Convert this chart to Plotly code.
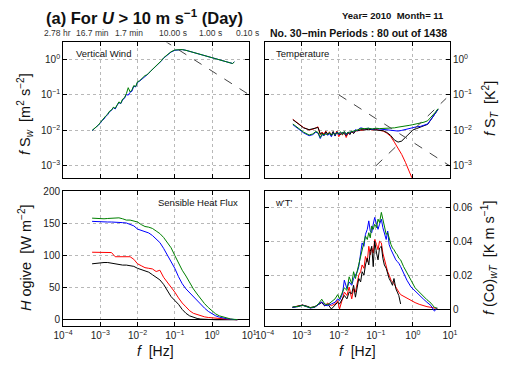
import plotly.graph_objects as go

# ---------------- data ----------------
# Vertical wind spectrum: log10 f and log10 (f S_w)
logf_w = [-3.22, -3.15, -3.1, -3.05, -3.0, -2.95, -2.9, -2.85, -2.8, -2.75, -2.7, -2.65, -2.6, -2.55,
          -2.5, -2.45, -2.4, -2.35, -2.3, -2.25, -2.2, -2.15, -2.1, -2.05, -2.0, -1.95, -1.9, -1.85,
          -1.8, -1.75, -1.7, -1.65, -1.6, -1.55, -1.5, -1.45, -1.4, -1.35, -1.3, -1.2, -1.1, -1.0,
          -0.9, -0.8, -0.7, -0.6, -0.5, -0.4, -0.3, -0.2, -0.1, 0.0, 0.1, 0.2, 0.3, 0.4, 0.5, 0.55, 0.6]
log_fSw_blue = [-2.01, -1.95, -1.90, -1.86, -1.80, -1.72, -1.68, -1.60, -1.56, -1.47, -1.44, -1.36, -1.40, -1.30,
                -1.22, -1.25, -1.14, -1.10, -0.99, -1.01, -0.93, -0.90, -0.76, -0.78, -0.65, -0.62, -0.58, -0.52,
                -0.48, -0.46, -0.40, -0.34, -0.29, -0.24, -0.19, -0.15, -0.11, -0.04, 0.03, 0.11, 0.20, 0.25,
                0.27, 0.27, 0.25, 0.22, 0.19, 0.16, 0.13, 0.10, 0.07, 0.04, 0.01, -0.03, -0.06, -0.09, -0.11, -0.12, -0.07]
log_fSw_green = [-2.00, -1.94, -1.88, -1.85, -1.78, -1.71, -1.66, -1.59, -1.54, -1.46, -1.43, -1.35, -1.38, -1.28,
                 -1.20, -1.24, -1.12, -1.08, -0.97, -0.80, -0.92, -0.86, -0.74, -0.77, -0.63, -0.61, -0.56, -0.51,
                 -0.46, -0.44, -0.39, -0.33, -0.28, -0.23, -0.18, -0.13, -0.10, -0.03, 0.04, 0.12, 0.21, 0.26,
                 0.27, 0.27, 0.25, 0.22, 0.19, 0.16, 0.13, 0.10, 0.07, 0.04, 0.01, -0.03, -0.06, -0.09, -0.11, -0.12, -0.08]

# Temperature spectrum: log10 f and log10 (f S_T)
logf_t = [-3.24, -3.1, -2.95, -2.8, -2.7, -2.62, -2.56, -2.5, -2.45, -2.4, -2.35, -2.3, -2.25, -2.2, -2.15,
          -2.1, -2.05, -2.0, -1.95, -1.9, -1.85, -1.8, -1.75, -1.7, -1.65, -1.6, -1.55, -1.5, -1.45, -1.4,
          -1.3, -1.2, -1.1, -1.0, -0.9, -0.8, -0.7, -0.6, -0.5, -0.4, -0.3, -0.2, -0.1, 0.0, 0.1, 0.2,
          0.3, 0.4, 0.5, 0.6, 0.68]
log_fST_red = [-1.69, -1.80, -1.92, -1.99, -1.97, -1.93, -1.90, -2.12, -2.05, -2.10, -2.02, -2.12, -2.04, -2.15, -2.06,
               -2.12, -2.02, -2.18, -2.08, -2.13, -2.05, -2.20, -2.08, -2.10, -2.04, -2.07, -2.00, -2.02, -1.98, -2.00,
               -1.97, -1.96, -1.99, -1.97, -2.00, -2.02, -2.08, -2.17, -2.33, -2.50, -2.68, -2.90, -3.15, -3.40, -3.65, None,
               None, None, None, None, None]
log_fST_black = [-1.70, -1.81, -1.93, -1.98, -1.96, -1.94, -1.92, -2.10, -2.07, -2.14, -2.04, -2.09, -2.08, -2.13, -2.03,
                 -2.16, -2.04, -2.10, -2.12, -2.06, -2.09, -2.15, -2.05, -2.12, -2.02, -2.09, -2.02, -2.00, -2.01, -1.98,
                 -1.99, -1.97, -1.98, -1.98, -1.99, -2.01, -2.06, -2.14, -2.27, -2.33, -2.30, -2.20, -2.08, -1.99, -1.95, -1.91,
                 -1.88, -1.83, -1.68, -1.52, -1.41]
log_fST_blue = [-1.84, -1.95, -2.07, -2.15, -2.12, -2.05, -2.08, -2.23, -2.12, -2.15, -2.08, -2.14, -2.09, -2.18, -2.07,
                -2.14, -2.05, -2.12, -2.06, -2.10, -2.04, -2.12, -2.05, -2.08, -2.02, -2.05, -1.98, -2.01, -1.95, -1.93,
                -1.96, -1.94, -1.97, -1.95, -1.96, -1.97, -1.98, -2.00, -2.02, -2.02, -2.00, -1.97, -1.94, -1.92, -1.90, -1.89,
                -1.86, -1.82, -1.68, -1.52, -1.41]
log_fST_green = [-1.82, -1.93, -2.05, -2.13, -2.10, -2.03, -2.06, -2.20, -2.10, -2.13, -2.10, -2.12, -2.06, -2.14, -2.09,
                 -2.11, -2.07, -2.09, -2.04, -2.12, -2.03, -2.10, -2.06, -2.05, -2.04, -2.03, -2.00, -1.99, -1.97, -1.95,
                 -1.95, -1.94, -1.96, -1.94, -1.95, -1.95, -1.95, -1.95, -1.93, -1.91, -1.90, -1.88, -1.86, -1.84, -1.82, -1.80,
                 -1.77, -1.73, -1.62, -1.50, -1.39]

# Ogive of sensible heat flux (W m-2)
logf_og = [-3.22, -3.1, -3.0, -2.9, -2.8, -2.7, -2.6, -2.5, -2.4, -2.3, -2.2, -2.1, -2.0, -1.9, -1.8, -1.7,
           -1.6, -1.5, -1.4, -1.3, -1.2, -1.1, -1.0, -0.9, -0.8, -0.7, -0.6, -0.5, -0.4, -0.3, -0.2, -0.1,
           0.0, 0.1, 0.2, 0.3, 0.4, 0.5, 0.6, 0.68]
og_green = [158, 157.5, 157, 157, 157.5, 158, 158, 158.5, 157, 155, 155, 154, 152, 148, 145, 144,
            142, 138, 134, 128, 120, 112, 100, 88, 77, 68, 57, 48, 40, 32, 25, 19,
            14, 9, 6, 4, 2.2, 1.2, 0.6, 0.3]
og_blue = [153, 152.5, 152, 152, 152, 152, 152, 151.5, 151, 150.5, 148, 146, 141, 139, 137, 135,
           131, 126, 120, 111, 101, 91, 80, 67, 56, 48, 42, 35, 29, 23, 18, 13,
           9, 6, 4, 2.5, 1.5, 0.8, 0.3, 0]
og_red = [105, 105, 105, 105, 105, 104.5, 98, 98, 98, 98, 98, 94, 87, 84, 81, 80,
          79, 75, 77, 66, 58, 52, 43, 34, 26, 20, 14, 10, 8, 6, 4.5, 3.5,
          2.8, 2, 1.5, 1.2, 1, 0.6, 0.3, 0]
og_black = [87, 88, 88.5, 89, 89, 88, 86, 85.5, 85, 85, 84.5, 83, 80, 78, 76, 74,
            70, 66, 62, 55, 46, 36, 30, 24, 16, 10, 6, 3.5, 2, 1, 0.5, 0.3,
            0.1, 0, 0, 0, 0, 0, 0, 0]

# Cospectrum f (Co)_wT (K m s-1)
logf_co = [-3.25, -3.1, -2.98, -2.85, -2.77, -2.65, -2.55, -2.46, -2.38, -2.3, -2.2, -2.1, -2.03, -1.98, -1.9,
           -1.85, -1.78, -1.72, -1.65, -1.6, -1.55, -1.5, -1.46, -1.41, -1.37, -1.32, -1.28, -1.23, -1.19, -1.15,
           -1.11, -1.07, -1.03, -0.98, -0.94, -0.9, -0.85, -0.81, -0.77, -0.72, -0.68, -0.64, -0.59, -0.55, -0.51,
           -0.46, -0.42, -0.38, -0.33, -0.25, -0.16, -0.05, 0.06, 0.17, 0.28, 0.38, 0.49, 0.58, 0.66]
co_green = [0.0012, 0.0015, 0.0022, 0.0014, 0.0008, 0.0012, 0.0030, 0.0058, 0.0030, 0.0025, 0.0045, 0.0060, 0.0085, 0.0060, 0.0100,
            0.0125, 0.0110, 0.0190, 0.0150, 0.0220, 0.0180, 0.0230, 0.0260, 0.0300, 0.0360, 0.0400, 0.0430, 0.0410, 0.0450, 0.0420,
            0.0490, 0.0470, 0.0500, 0.0480, 0.0530, 0.0510, 0.0570, 0.0530, 0.0480, 0.0440, 0.0450, 0.0410, 0.0380, 0.0360, 0.0350,
            0.0330, 0.0320, 0.0300, 0.0290, 0.0250, 0.0210, 0.0170, 0.0125, 0.0100, 0.0077, 0.0055, 0.0035, 0.0010, 0.0005]
co_blue = [0.0010, 0.0014, 0.0023, 0.0013, 0.0006, 0.0010, 0.0025, 0.0042, 0.0022, 0.0020, 0.0030, 0.0040, 0.0060, 0.0050, 0.0090,
           0.0170, 0.0120, 0.0160, 0.0140, 0.0180, 0.0200, 0.0220, 0.0250, 0.0340, 0.0390, 0.0370, 0.0440, 0.0470, 0.0520, 0.0460,
           0.0450, 0.0500, 0.0540, 0.0500, 0.0470, 0.0500, 0.0530, 0.0480, 0.0440, 0.0410, 0.0460, 0.0380, 0.0350, 0.0330, 0.0320,
           0.0290, 0.0280, 0.0270, 0.0250, 0.0210, 0.0170, 0.0130, 0.0105, 0.0080, 0.0060, 0.0040, 0.0020, -0.0012, 0.0005]
co_red = [0.0010, 0.0016, 0.0024, 0.0015, 0.0007, 0.0012, 0.0028, 0.0040, 0.0020, 0.0035, 0.0020, 0.0030, 0.0050, 0.0000, 0.0060,
          0.0100, 0.0080, 0.0130, 0.0060, 0.0120, 0.0100, 0.0160, 0.0200, 0.0220, 0.0260, 0.0240, 0.0310, 0.0280, 0.0370, 0.0320,
          0.0360, 0.0330, 0.0410, 0.0380, 0.0350, 0.0400, 0.0390, 0.0330, 0.0290, 0.0250, 0.0220, 0.0200, 0.0170, 0.0160, 0.0150,
          0.0130, 0.0110, 0.0100, 0.0085, 0.0075, 0.0065, 0.0050, 0.0038, 0.0028, 0.0020, 0.0014, 0.0010, 0.0005, 0.0003]
co_black = [0.0010, 0.0015, 0.0023, 0.0016, 0.0009, 0.0014, 0.0026, 0.0038, 0.0018, 0.0030, 0.0000, 0.0020, 0.0040, 0.0030, 0.0060,
            0.0080, 0.0060, 0.0100, 0.0090, 0.0140, 0.0070, 0.0130, 0.0180, 0.0160, 0.0220, 0.0200, 0.0260, 0.0300, 0.0260, 0.0340,
            0.0370, 0.0250, 0.0400, 0.0330, 0.0290, 0.0360, 0.0370, 0.0300, 0.0260, 0.0240, 0.0200, 0.0180, 0.0160, 0.0140, 0.0180,
            0.0120, 0.0100, 0.0080, 0.0030, None, None, None, None, None, None, None, None, None, None]

# Reference slope lines (log10 f, log10 value) endpoints
ref_w_logf, ref_w_logv = [-1.3, 1.0], [0.533, -1.0]
ref_t1_logf, ref_t1_logv = [-2.0, 1.0], [-1.0, -3.0]
ref_t2_logf, ref_t2_logv = [-1.0, 0.9], [-3.0, -1.1]

# Tick labels
period_labels = ["2.78 hr", "16.7 min", "1.7 min", "10.00 s", "1.00 s", "0.10 s"]
period_logf = [-4, -3, -2, -1, 0, 1]
period_shift = [-6, -8, -9, -2, -2, -2]
xtick_vals = [1e-4, 1e-3, 1e-2, 1e-1, 1, 10]
xtick_text = ["10<sup>−4</sup>", "10<sup>−3</sup>", "10<sup>−2</sup>", "10<sup>−1</sup>", "10<sup>0</sup>", "10<sup>1</sup>"]
ylog_vals = [1e-3, 1e-2, 1e-1, 1]
ylog_text = ["10<sup>−3</sup>", "10<sup>−2</sup>", "10<sup>−1</sup>", "10<sup>0</sup>"]
og_ticks = [0, 50, 100, 150, 200]
co_ticks = [0, 0.02, 0.04, 0.06]
co_ticktext = ["0", "0.02", "0.04", "0.06"]

# ---------------- figure ----------------
def p10(v):
    return [None if a is None else 10 ** a for a in v]

FONT = "Liberation Sans, Arial, Helvetica, sans-serif"
colors = {"red": "#ff0000", "black": "#000000", "blue": "#0000ff", "green": "#008000"}

fig = go.Figure()

def add(x, y, ax, color, dash=None, width=1.0):
    fig.add_trace(go.Scatter(x=x, y=y, xaxis="x" + ax, yaxis="y" + ax, mode="lines",
                             line=dict(color=color, width=width, dash=dash), showlegend=False,
                             connectgaps=False, hoverinfo="skip"))

# Panel 1 : vertical wind
add(p10(logf_w), p10(log_fSw_blue), "", colors["blue"])
add(p10(logf_w), p10(log_fSw_green), "", colors["green"])
add(p10(ref_w_logf), p10(ref_w_logv), "", "#444444", dash="dash")

# Panel 2 : temperature
add(p10(logf_t), p10(log_fST_red), "2", colors["red"])
add(p10(logf_t), p10(log_fST_black), "2", colors["black"])
add(p10(logf_t), p10(log_fST_blue), "2", colors["blue"])
add(p10(logf_t), p10(log_fST_green), "2", colors["green"])
add(p10(ref_t1_logf), p10(ref_t1_logv), "2", "#444444", dash="dash")
add(p10(ref_t2_logf), p10(ref_t2_logv), "2", "#444444", dash="dash")

# Panel 3 : ogive
for name, arr in [("black", og_black), ("red", og_red), ("blue", og_blue), ("green", og_green)]:
    add(p10(logf_og), arr, "3", colors[name])

# Panel 4 : cospectrum
for name, arr in [("red", co_red), ("black", co_black), ("blue", co_blue), ("green", co_green)]:
    add(p10(logf_co), arr, "4", colors[name])

W, H = 510, 376
xl = [55 / W, 248 / W]
xr = [264 / W, 456 / W]
yt = [1 - 175 / H, 1 - 38 / H]
yb = [1 - 325.5 / H, 1 - 188 / H]

tickfont = dict(family=FONT, size=10, color="#222222")
common = dict(showline=True, linecolor="black", linewidth=1, mirror="ticks", ticks="inside", ticklen=4,
              tickcolor="black", showgrid=True, gridcolor="#b8b8b8", griddash="dot", gridwidth=1,
              tickfont=tickfont, zeroline=False)

xcommon = dict(common, type="log", range=[-4, 1], tickvals=xtick_vals, ticktext=xtick_text)

fig.update_layout(
    width=W, height=H, margin=dict(l=0, r=0, t=0, b=0),
    paper_bgcolor="white", plot_bgcolor="white",
    font=dict(family=FONT, color="#222222"),
    xaxis=dict(xcommon, domain=xl, anchor="y", showticklabels=False),
    yaxis=dict(common, domain=yt, anchor="x", type="log", range=[-3.33, 0.47], tickvals=ylog_vals, ticktext=ylog_text),
    xaxis2=dict(xcommon, domain=xr, anchor="y2", showticklabels=False),
    yaxis2=dict(common, domain=yt, anchor="x2", type="log", range=[-3.33, 0.47], tickvals=ylog_vals, ticktext=ylog_text, side="right"),
    xaxis3=dict(xcommon, domain=xl, anchor="y3"),
    yaxis3=dict(common, domain=yb, anchor="x3", range=[-10, 201], tickvals=og_ticks,
                zeroline=True, zerolinecolor="black", zerolinewidth=1),
    xaxis4=dict(xcommon, domain=xr, anchor="y4"),
    yaxis4=dict(common, domain=yb, anchor="x4", range=[-0.0101, 0.0699], tickvals=co_ticks, ticktext=co_ticktext, side="right",
                zeroline=True, zerolinecolor="black", zerolinewidth=1),
)

ann = []
def A(text, x, y, size, xanchor="left", yanchor="middle", angle=0, bold=False, color="#111111", **kw):
    ann.append(dict(text=("<b>%s</b>" % text) if bold else text, x=x, y=y, xref=kw.pop("xref", "paper"),
                    yref=kw.pop("yref", "paper"), showarrow=False, xanchor=xanchor, yanchor=yanchor,
                    textangle=angle, font=dict(family=FONT, size=size, color=color), **kw))

A("(a) For <i>U</i> > 10 m s<sup>−1</sup> (Day)", 35 / W, 1 - 12 / H, 16.5, bold=True)
A("Year= 2010  Month= 11", 452 / W, 1 - 11 / H, 9.5, xanchor="right", bold=True)
A("No. 30−min Periods : 80 out of 1438", 455 / W, 1 - 28.5 / H, 10.5, xanchor="right", bold=True)
for lab, lf, sh in zip(period_labels, period_logf, period_shift):
    A(lab, lf, 1 - 28.5 / H, 8.5, xanchor="center", xref="x", xshift=sh, color="#333333")

A("Vertical Wind", 66 / W, 1 - 49.5 / H, 9.5)
A("Temperature", 274 / W, 1 - 49.5 / H, 9.5)
A("Sensible Heat Flux", 238 / W, 1 - 200 / H, 9.5, xanchor="right")
A("w'T'", 273 / W, 1 - 200 / H, 9.5)

A("<i>f</i> S<sub><i>w</i></sub>  [m<sup>2</sup> s<sup>−2</sup>]", 15 / W, 1 - 110 / H, 14.5, xanchor="center", angle=-90)
A("<i>H</i> ogive  [W m<sup>−2</sup>]", 15 / W, 1 - 256 / H, 14.5, xanchor="center", angle=-90)
A("<i>f</i> S<sub><i>T</i></sub>  [K<sup>2</sup>]", 497 / W, 1 - 105 / H, 14.5, xanchor="center", angle=-90)
A("<i>f</i> (Co)<sub><i>wT</i></sub>  [K m s<sup>−1</sup>]", 496 / W, 1 - 256 / H, 14.5, xanchor="center", angle=-90)
A("<i>f</i>  [Hz]", 151 / W, 1 - 351 / H, 14, xanchor="center")
A("<i>f</i>  [Hz]", 360 / W, 1 - 351 / H, 14, xanchor="center")

fig.update_layout(annotations=ann)
fig.write_html("out.html")
